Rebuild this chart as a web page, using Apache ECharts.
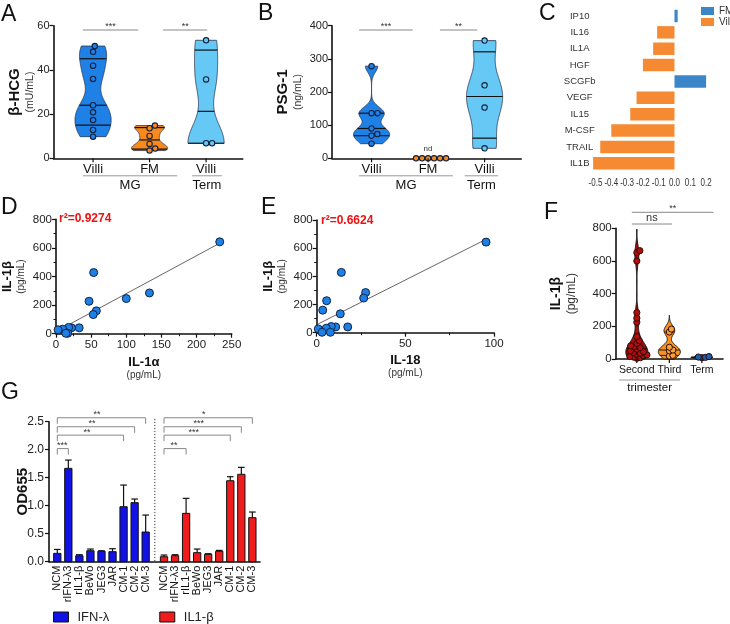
<!DOCTYPE html>
<html><head><meta charset="utf-8">
<script src="https://cdn.jsdelivr.net/npm/echarts@6/dist/echarts.min.js"></script>
<style>html,body{margin:0;padding:0;background:#fff}#c{width:730px;height:624px}</style>
</head><body><div id="c"></div>
<script>
// ================= DATA =================
// Panel A: beta-HCG (mU/mL)
const abCategories = ['Villi', 'FM', 'Villi'];
const abGroupNames = ['MG', 'Term'];
const aVilliMG = [50.8, 48.2, 41.9, 35.9, 24.0, 20.8, 17.3, 12.8, 9.8];
const aFM = [14.8, 13.6, 10.1, 6.5, 4.4, 3.5];
const aVilliTerm = [53.4, 35.7, 6.8, 6.8];
const aSig = ['***', '**'];
// Panel B: PSG-1 (ng/mL)
const bVilliMG = [278, 136, 136, 90, 73, 68, 44];
const bFM = [0, 0, 0, 0, 0, 0];
const bVilliTerm = [355, 220, 153, 30];
const bSig = ['***', '**'];
// Panel C: fold change
const cCategories = ['IP10', 'IL16', 'IL1A', 'HGF', 'SCGFb', 'VEGF', 'IL15', 'M-CSF', 'TRAIL', 'IL1B'];
const cFM =    [0.02, null, null, null, 0.21, null, null, null, null, null];
const cVilli = [null, -0.11, -0.135, -0.20, null, -0.24, -0.28, -0.40, -0.47, -0.515];
const cTicks = [-0.5, -0.4, -0.3, -0.2, -0.1, 0.0, 0.1, 0.2];
// Panels D / E
const deIL1b = [643, 428, 285, 246, 227, 160, 134, 41, 41, 44, 32, 27, 3, 3];
const dIL1a  = [233, 53.6, 133, 100, 47, 57.4, 53, 33, 22, 18, 9.5, 3, 16.6, 14];
const eIL18  = [95.5, 13.9, 27.6, 26.5, 5.6, 3.4, 13.3, 17.5, 10.7, 8.2, 5.4, 0.9, 3.0, 7.7];
const dR2 = 'r²=0.9274';
const eR2 = 'r²=0.6624';
// Panel F: IL-1beta (pg/mL)
const fCategories = ['Second', 'Third', 'Term'];
const fSecond = [663, 651, 600, 284, 250, 225, 137, 112, 95, 80, 75, 70, 60, 50, 45, 40, 35, 30, 25, 20, 15, 12, 8, 5];
const fThird = [183, 165, 72, 55, 50, 22, 18];
const fTerm = [15, 12, 10, 8];
const fSig = ['**', 'ns'];
// Panel G: OD655
const gLabels = ['NCM', 'rIFN-λ3', 'rIL1-β', 'BeWo', 'JEG3', 'JAR', 'CM-1', 'CM-2', 'CM-3'];
const gIFNMean  = [0.149, 1.667, 0.107, 0.196, 0.185, 0.179, 0.982, 1.054, 0.530];
const gIFNErr   = [0.070, 0.148, 0.018, 0.030, 0.011, 0.053, 0.387, 0.065, 0.303];
const gIL1bMean = [0.089, 0.107, 0.863, 0.161, 0.131, 0.185, 1.446, 1.560, 0.786];
const gIL1bErr  = [0.030, 0.018, 0.268, 0.065, 0.012, 0.017, 0.072, 0.125, 0.101];
const gIFNSig  = ['**', '**', '**', '***'];
const gIL1bSig = ['*', '***', '***', '**'];
const gIFNSigTarget  = [8, 7, 6, 1];
const gIL1bSigTarget = [8, 7, 6, 2];

// ================= HELPERS =================
const FONT = '"Liberation Sans", Arial, Helvetica, sans-serif';
const line = (x1, y1, x2, y2, stroke, w, dash) => ({type: 'line', shape: {x1, y1, x2, y2}, style: {stroke, lineWidth: w, lineDash: dash || null}});
const text = (x, y, t, size, fill, align, va, extra) => ({type: 'text', x, y, style: Object.assign({text: t, fill, fontSize: size, fontFamily: FONT, align, verticalAlign: va}, extra || {})});

function quantile(vals, p) {
  const s = [...vals].sort((a, b) => a - b); const n = s.length;
  const pos = p * (n + 1);
  if (pos <= 1) return s[0]; if (pos >= n) return s[n - 1];
  const i = Math.floor(pos); return s[i - 1] + (pos - i) * (s[i] - s[i - 1]);
}
function silverman(vals) {
  const n = vals.length; const m = vals.reduce((a, b) => a + b, 0) / n;
  const sd = Math.sqrt(vals.reduce((a, b) => a + (b - m) ** 2, 0) / (n - 1));
  const iqr = quantile(vals, 0.75) - quantile(vals, 0.25);
  let s = Math.min(sd, iqr / 1.34); if (!(s > 0)) s = sd;
  return 0.9 * s * Math.pow(n, -0.2);
}
function linreg(xs, ys) {
  const n = xs.length; const mx = xs.reduce((a, b) => a + b, 0) / n; const my = ys.reduce((a, b) => a + b, 0) / n;
  let sxy = 0, sxx = 0; xs.forEach((x, i) => { sxy += (x - mx) * (ys[i] - my); sxx += (x - mx) ** 2; });
  const b = sxy / sxx; return {a: my - b * mx, b};
}

function violinSeries(gi, groups, o) {
  return {
    type: 'custom', xAxisIndex: gi, yAxisIndex: gi, z: 2, silent: true, clip: false,
    data: groups.map((g, i) => [g.x, i]),
    renderItem(params, api) {
      const g = groups[params.dataIndex]; const v = g.values;
      const mn = Math.min(...v), mx = Math.max(...v);
      if (mx - mn <= 0) return {type: 'group', children: []};
      const bw = silverman(v) * o.bwFactor;
      const dens = t => v.reduce((s, x) => s + Math.exp(-0.5 * ((t - x) / bw) ** 2), 0);
      const lo = o.truncate ? mn : Math.max(o.yMin, mn - 3 * bw);
      const hi = o.truncate ? mx : Math.min(o.yMax, mx + 3 * bw);
      const N = 140, ts = [], ds = [];
      for (let k = 0; k <= N; k++) { const t = lo + (hi - lo) * k / N; ts.push(t); ds.push(dens(t)); }
      const maxD = Math.max(...ds);
      const L = [], R = [];
      ts.forEach((t, k) => { const w = ds[k] / maxD * o.halfWidth; L.push(api.coord([g.x - w, t])); R.push(api.coord([g.x + w, t])); });
      const ch = [{type: 'polygon', shape: {points: L.concat(R.reverse())}, style: {fill: g.color, stroke: o.stroke, lineWidth: o.strokeWidth}}];
      [0.25, 0.5, 0.75].forEach(p => {
        const q = quantile(v, p); const w = dens(q) / maxD * o.halfWidth;
        const a = api.coord([g.x - w, q]), b = api.coord([g.x + w, q]);
        ch.push(line(a[0], a[1], b[0], b[1], o.qColor, o.qWidth));
      });
      return {type: 'group', children: ch};
    }
  };
}

function pointSeries(gi, groups, o) {
  return {
    type: 'custom', xAxisIndex: gi, yAxisIndex: gi, z: 3, silent: true, clip: false,
    data: groups.map((g, i) => [g.x, i]),
    renderItem(params, api) {
      const g = groups[params.dataIndex]; const r = o.r; const d = 2 * r + o.gap;
      const cx = api.coord([g.x, 0])[0];
      const pts = g.values.map(v => ({y: api.coord([g.x, v])[1]})).sort((a, b) => b.y - a.y);
      const placed = [];
      pts.forEach(p => {
        const c = [0];
        placed.forEach(q => { const dy = p.y - q.y; if (Math.abs(dy) < d) { const dx = Math.sqrt(d * d - dy * dy); c.push(q.dx + dx, q.dx - dx); } });
        c.sort((a, b) => Math.abs(a) - Math.abs(b) || b - a);
        for (const cc of c) { if (placed.every(q => Math.hypot(q.dx - cc, q.y - p.y) >= d - 0.01)) { p.dx = cc; break; } }
        if (p.dx === undefined) p.dx = 0;
        placed.push(p);
      });
      return {type: 'group', children: placed.map(p => ({type: 'circle', shape: {cx: cx + p.dx, cy: p.y, r}, style: {fill: g.pointColor, stroke: o.stroke, lineWidth: o.lw}}))};
    }
  };
}

// category decorations for A/B/F (value x-axes)
function catDecor(gi, ymin, ymax, spec) {
  return {
    type: 'custom', xAxisIndex: gi, yAxisIndex: gi, silent: true, z: 5, clip: false, data: [[1, ymin]],
    renderItem(params, api) {
      const P = (x, y) => api.coord([x, y]);
      const axisY = P(1, ymin)[1], topY = P(1, ymax)[1];
      const ch = [];
      spec.cats.forEach((c, i) => {
        const x = P(i + 1, ymin)[0];
        ch.push(line(x, axisY, x, axisY + 4, '#111', 1.2));
        ch.push(text(x, axisY + spec.catDy, c, spec.catSize, '#111', 'center', 'top'));
      });
      spec.groups.forEach((g, i) => {
        const x1 = P(g[0], ymin)[0], x2 = P(g[1], ymin)[0];
        ch.push(line(x1, axisY + spec.groupLineDy, x2, axisY + spec.groupLineDy, '#999', 1));
        ch.push(text((x1 + x2) / 2, axisY + spec.groupDy, spec.groupNames[i], spec.groupSize || spec.catSize, '#111', 'center', 'top'));
      });
      spec.sigs.forEach((s, i) => {
        const x1 = P(s[0], ymin)[0], x2 = P(s[1], ymin)[0]; const y = topY + s[2];
        ch.push(line(x1, y, x2, y, '#888', 1));
        ch.push(text((x1 + x2) / 2, y + spec.sigTextDy[i], spec.sigLabels[i], spec.sigSize[i], '#333', 'center', 'bottom'));
      });
      if (spec.nd) {
        const p = P(spec.nd[0], ymin);
        ch.push(text(p[0], axisY - 10, 'nd', 8, '#333', 'center', 'middle'));
      }
      return {type: 'group', children: ch};
    }
  };
}

function yName(main, unit, mainSize, unitSize) {
  return {
    name: '{a|' + main + '}\n{b|' + unit + '}', nameLocation: 'middle', nameRotate: 90, nameMoveOverlap: false,
    nameTextStyle: {fontFamily: FONT, rich: {
      a: {fontSize: mainSize, fontWeight: 'bold', color: '#111', fontFamily: FONT, lineHeight: mainSize + 2},
      b: {fontSize: unitSize, color: '#333', fontFamily: FONT, lineHeight: unitSize + 3}}}
  };
}
const AXL = {show: true, lineStyle: {color: '#111', width: 1.6}};
const TICK = {show: true, length: 4, lineStyle: {color: '#111', width: 1.2}};
const LBL = (size, margin) => ({fontSize: size, color: '#222', margin, fontFamily: FONT});
function yAx(gi, min, max, interval, size, margin, nameObj, gap, extra) {
  return Object.assign({gridIndex: gi, type: 'value', min, max, interval, axisLine: AXL, axisTick: TICK,
    axisLabel: LBL(size, margin), splitLine: {show: false}, nameGap: gap}, nameObj, extra || {});
}
function xHidden(gi, min, max) {
  return {gridIndex: gi, type: 'value', min, max, axisLine: AXL, axisTick: {show: false}, axisLabel: {show: false}, splitLine: {show: false}};
}

// ================= COLOURS =================
const C_MG = '#1f80e6', C_FM = '#f7891f', C_TERM = '#66c8f5';

// ================= SERIES =================
const series = [];
// A
series.push(violinSeries(0, [
  {x: 1, values: aVilliMG, color: C_MG}, {x: 2, values: aFM, color: C_FM}, {x: 3, values: aVilliTerm, color: C_TERM}],
  {bwFactor: 0.6, truncate: true, halfWidth: 0.32, stroke: '#2a3550', strokeWidth: 0.8, qColor: '#111', qWidth: 1.2}));
series.push(pointSeries(0, [
  {x: 1, values: aVilliMG, pointColor: C_MG}, {x: 2, values: aFM, pointColor: C_FM}, {x: 3, values: aVilliTerm, pointColor: C_TERM}],
  {r: 2.7, gap: 0.6, stroke: '#14213d', lw: 1.1}));
series.push(catDecor(0, 0, 60, {cats: abCategories, catDy: 4.5, catSize: 13, groups: [[0.82, 2.49], [2.75, 3.28]], groupNames: abGroupNames,
  groupLineDy: 17.5, groupDy: 21, sigs: [[0.82, 1.80, 4.3], [2.24, 3.02, 4.3]], sigLabels: aSig, sigTextDy: [1, 1], sigSize: [9, 9]}));
// B
series.push(violinSeries(1, [
  {x: 1, values: bVilliMG, color: C_MG}, {x: 2, values: bFM, color: C_FM}, {x: 3, values: bVilliTerm, color: C_TERM}],
  {bwFactor: 0.6, truncate: true, halfWidth: 0.32, stroke: '#2a3550', strokeWidth: 0.8, qColor: '#111', qWidth: 1.2}));
series.push(pointSeries(1, [
  {x: 1, values: bVilliMG, pointColor: C_MG}, {x: 2, values: bFM, pointColor: C_FM}, {x: 3, values: bVilliTerm, pointColor: C_TERM}],
  {r: 2.7, gap: 0.6, stroke: '#14213d', lw: 1.1}));
series.push(catDecor(1, 0, 400, {cats: abCategories, catDy: 4.5, catSize: 13, groups: [[0.78, 2.44], [2.65, 3.24]], groupNames: abGroupNames,
  groupLineDy: 17.5, groupDy: 21, sigs: [[0.78, 1.73, 4.3], [2.21, 2.87, 4.3]], sigLabels: bSig, sigTextDy: [1, 1], sigSize: [9, 9], nd: [2]}));
// C
series.push({type: 'bar', name: 'FM', xAxisIndex: 2, yAxisIndex: 2, data: cFM, barWidth: '76%', barGap: '-100%', itemStyle: {color: '#3a86c8'}, silent: true});
series.push({type: 'bar', name: 'Villi', xAxisIndex: 2, yAxisIndex: 2, data: cVilli, barWidth: '76%', barGap: '-100%', itemStyle: {color: '#f68a33'}, silent: true});
series.push({
  type: 'custom', xAxisIndex: 2, yAxisIndex: 2, silent: true, z: 5, clip: false, data: [[0, 0]],
  renderItem(params, api) {
    const last = cCategories.length - 1;
    const band = api.size([0, 1])[1];
    const yb = api.coord([0, last])[1] + band / 2 + 7;
    return {type: 'group', children: cTicks.map(t => {
      const x = api.coord([t, last])[0];
      const el = text(x, yb, (Math.round(t * 10) / 10 + 0).toFixed(1), 10, '#333', 'center', 'top');
      el.scaleX = 0.8; return el;
    })};
  }
});
// D
const dFit = linreg(dIL1a, deIL1b);
const dMin = Math.min(...dIL1a), dMax = Math.max(...dIL1a);
series.push({type: 'line', xAxisIndex: 3, yAxisIndex: 3, data: [[dMin, dFit.a + dFit.b * dMin], [dMax, dFit.a + dFit.b * dMax]],
  symbol: 'none', lineStyle: {color: '#555', width: 0.9}, z: 1, silent: true});
series.push({type: 'scatter', xAxisIndex: 3, yAxisIndex: 3, data: dIL1a.map((x, i) => [x, deIL1b[i]]), symbolSize: 8,
  itemStyle: {color: '#1e80e4', borderColor: '#0d2346', borderWidth: 1, opacity: 1}, z: 3, silent: true});
// E
const eFit = linreg(eIL18, deIL1b);
const eMin = Math.min(...eIL18), eMax = Math.max(...eIL18);
series.push({type: 'line', xAxisIndex: 4, yAxisIndex: 4, data: [[eMin, eFit.a + eFit.b * eMin], [eMax, eFit.a + eFit.b * eMax]],
  symbol: 'none', lineStyle: {color: '#555', width: 0.9}, z: 1, silent: true});
series.push({type: 'scatter', xAxisIndex: 4, yAxisIndex: 4, data: eIL18.map((x, i) => [x, deIL1b[i]]), symbolSize: 8,
  itemStyle: {color: '#1e80e4', borderColor: '#0d2346', borderWidth: 1, opacity: 1}, z: 3, silent: true});
// F
series.push(violinSeries(5, [
  {x: 1, values: fSecond, color: '#a30f0f'}, {x: 2, values: fThird, color: '#f7931e'}, {x: 3, values: fTerm, color: '#1f5fae'}],
  {bwFactor: 0.7, truncate: false, yMin: 0, yMax: 800, halfWidth: 0.34, stroke: '#111', strokeWidth: 1, qColor: '#111', qWidth: 0.9}));
series.push(pointSeries(5, [
  {x: 1, values: fSecond, pointColor: '#b30d0d'}, {x: 2, values: fThird, pointColor: '#f9a23a'}, {x: 3, values: fTerm, pointColor: '#1f5fae'}],
  {r: 3.1, gap: -2.6, stroke: '#2a0a0a', lw: 1}));
series.push(catDecor(5, 0, 800, {cats: fCategories, catDy: 6, catSize: 10.5, groupSize: 11.5, groups: [[0.455, 2.33]], groupNames: ['trimester'],
  groupLineDy: 21, groupDy: 23, sigs: [[0.846, 3.357, -16], [0.846, 2.08, -4.3]], sigLabels: fSig, sigTextDy: [1, -0.5], sigSize: [9, 11]}));
// G
const G_OFFSET = 9.66;
function gBarSeries(name, means, errs, offset, color) {
  return {
    type: 'custom', name, xAxisIndex: 6, yAxisIndex: 6, z: 3, silent: true, clip: false,
    itemStyle: {color, borderColor: '#111', borderWidth: 1},
    encode: {x: 0, y: 1},
    data: means.map((m, i) => [i + 1 + offset, m, errs[i]]),
    renderItem(params, api) {
      const x = api.value(0), m = api.value(1), e = api.value(2);
      const p0 = api.coord([x - 0.33, m]), p1 = api.coord([x + 0.33, 0]);
      const t = api.coord([x, m + e]), b = api.coord([x, m]);
      const cl = api.coord([x - 0.3, m + e]), cr = api.coord([x + 0.3, m + e]);
      return {type: 'group', children: [
        line(b[0], b[1], t[0], t[1], '#111', 1.2),
        line(cl[0], cl[1], cr[0], cr[1], '#111', 1.2),
        {type: 'rect', shape: {x: p0[0], y: p0[1], width: p1[0] - p0[0], height: p1[1] - p0[1]}, style: {fill: color, stroke: '#111', lineWidth: 1}}
      ]};
    }
  };
}
series.push(gBarSeries('IFN-λ', gIFNMean, gIFNErr, 0, '#1212e6'));
series.push(gBarSeries('IL1-β', gIL1bMean, gIL1bErr, G_OFFSET, '#ee1c1c'));
const gLevels = [2.57, 2.41, 2.26, 2.02];
series.push({
  type: 'custom', xAxisIndex: 6, yAxisIndex: 6, silent: true, z: 5, clip: false, data: [[1, 0]],
  renderItem(params, api) {
    const P = (x, y) => api.coord([x, y]);
    const axisY = P(1, 0)[1]; const ch = [];
    [[0, gLabels], [G_OFFSET, gLabels]].forEach(([off, labs]) => {
      labs.forEach((l, i) => { const x = P(i + 1 + off, 0)[0];
        ch.push(text(x, axisY + 4, l, 11, '#111', 'right', 'middle'));
        ch[ch.length - 1].rotation = Math.PI / 2; });
    });
    const dv = P((9 + 1 + G_OFFSET) / 2, 2.55), d0 = P((9 + 1 + G_OFFSET) / 2, 0);
    ch.push(line(dv[0], dv[1], d0[0], d0[1], '#333', 1, [1.2, 1.8]));
    [[0, gIFNSig, gIFNSigTarget], [G_OFFSET, gIL1bSig, gIL1bSigTarget]].forEach(([off, sig, tgt]) => {
      sig.forEach((s, k) => {
        const a = P(1 + off, gLevels[k]), b = P(tgt[k] + 1 + off, gLevels[k]);
        ch.push(line(a[0], a[1], b[0], b[1], '#888', 1));
        ch.push(line(a[0], a[1], a[0], a[1] + 6, '#888', 1));
        ch.push(line(b[0], b[1], b[0], b[1] + 6, '#888', 1));
        ch.push(text(a[0] + (b[0] - a[0]) * 0.45, a[1] + 1.5, s, 9, '#333', 'center', 'bottom'));
      });
    });
    return {type: 'group', children: ch};
  }
});

// ================= OPTION =================
const gridBase = {containLabel: false, outerBoundsMode: 'none'};
const option = {
  animation: false,
  textStyle: {fontFamily: FONT},
  grid: [
    Object.assign({left: 53.5, top: 25.7, width: 189.3, height: 132.6}, gridBase),
    Object.assign({left: 332, top: 25.7, width: 189.3, height: 132.6}, gridBase),
    Object.assign({left: 579.7, top: 7.8, width: 126.4, height: 163.7}, gridBase),
    Object.assign({left: 56, top: 219.4, width: 175.7, height: 114.3}, gridBase),
    Object.assign({left: 316.7, top: 220, width: 177.3, height: 112.7}, gridBase),
    Object.assign({left: 615.7, top: 228.3, width: 107.3, height: 130.7}, gridBase),
    Object.assign({left: 49, top: 421.7, width: 211, height: 140}, gridBase)
  ],
  xAxis: [
    xHidden(0, 0.3, 3.65),
    xHidden(1, 0.3, 3.65),
    {gridIndex: 2, type: 'value', min: -0.6, max: 0.2, interval: 0.1, axisLine: {show: false}, axisTick: {show: false}, splitLine: {show: false}, axisLabel: {show: false}},
    Object.assign({gridIndex: 3, type: 'value', min: 0, max: 250, interval: 50, axisLine: AXL, axisTick: TICK, minorTick: {show: true, splitNumber: 2, length: 2.5, lineStyle: {color: '#111'}},
      axisLabel: LBL(11.5, 5), splitLine: {show: false}, minorSplitLine: {show: false}, nameGap: 22, nameLocation: 'middle', nameMoveOverlap: false,
      name: '{a|IL-1α}\n{b|(pg/mL)}', nameTextStyle: {rich: {a: {fontSize: 13, fontWeight: 'bold', color: '#111', fontFamily: FONT, lineHeight: 14}, b: {fontSize: 10, color: '#333', fontFamily: FONT, lineHeight: 12}}}}),
    Object.assign({gridIndex: 4, type: 'value', min: 0, max: 100, interval: 50, axisLine: AXL, axisTick: TICK, minorTick: {show: true, splitNumber: 2, length: 2.5, lineStyle: {color: '#111'}},
      axisLabel: LBL(11.5, 5), splitLine: {show: false}, minorSplitLine: {show: false}, nameGap: 21, nameLocation: 'middle', nameMoveOverlap: false,
      name: '{a|IL-18}\n{b|(pg/mL)}', nameTextStyle: {rich: {a: {fontSize: 13, fontWeight: 'bold', color: '#111', fontFamily: FONT, lineHeight: 14}, b: {fontSize: 10, color: '#333', fontFamily: FONT, lineHeight: 12}}}}),
    xHidden(5, 0.35, 3.65),
    xHidden(6, 0.25, 19.35)
  ],
  yAxis: [
    yAx(0, 0, 60, 20, 11, 4, yName('β-HCG', '(mU/mL)', 15, 10.5), 17),
    yAx(1, 0, 400, 100, 11, 4, yName('PSG-1', '(ng/mL)', 15, 10.5), 27),
    {gridIndex: 2, type: 'category', data: cCategories, inverse: true, axisLine: {show: false}, axisTick: {show: false}, splitLine: {show: false},
      axisLabel: {fontSize: 9.5, color: '#333', align: 'center', margin: 0, fontFamily: FONT}},
    yAx(3, 0, 800, 200, 11.5, 4, yName('IL-1β', '(pg/mL)', 13, 10), 28, {minorTick: {show: true, splitNumber: 2, length: 2.5, lineStyle: {color: '#111'}}, minorSplitLine: {show: false}}),
    yAx(4, 0, 800, 200, 11.5, 4, yName('IL-1β', '(pg/mL)', 13, 10), 28, {minorTick: {show: true, splitNumber: 2, length: 2.5, lineStyle: {color: '#111'}}, minorSplitLine: {show: false}}),
    yAx(5, 0, 800, 200, 11.5, 4, yName('IL-1β', '(pg/mL)', 14, 12), 37),
    yAx(6, 0, 2.5, 0.5, 12, 5, yName('OD655', '', 15, 1), 14, {axisLabel: Object.assign(LBL(12, 5), {formatter: v => v.toFixed(1)})})
  ],
  legend: [
    {data: ['FM', 'Villi'], orient: 'vertical', left: 701, top: 6, padding: 0, itemWidth: 13, itemHeight: 8, itemGap: 1, icon: 'rect', selectedMode: false,
      textStyle: {fontSize: 10, color: '#333', fontFamily: FONT}},
    {data: ['IFN-λ', 'IL1-β'], left: 53, top: 610.5, padding: 0, itemWidth: 15, itemHeight: 10, itemGap: 50, icon: 'rect', selectedMode: false,
      itemStyle: {borderColor: '#111', borderWidth: 1},
      textStyle: {fontSize: 13, color: '#222', fontFamily: FONT, padding: [0, 0, 0, 4]}}
  ],
  graphic: [
    {type: 'text', left: 1, top: 3, style: {text: 'A', font: '23px ' + FONT, fill: '#111'}},
    {type: 'text', left: 258, top: 2, style: {text: 'B', font: '23px ' + FONT, fill: '#111'}},
    {type: 'text', left: 539, top: 2, style: {text: 'C', font: '23px ' + FONT, fill: '#111'}},
    {type: 'text', left: 1, top: 196, style: {text: 'D', font: '23px ' + FONT, fill: '#111'}},
    {type: 'text', left: 261, top: 196, style: {text: 'E', font: '23px ' + FONT, fill: '#111'}},
    {type: 'text', left: 544, top: 201, style: {text: 'F', font: '23px ' + FONT, fill: '#111'}},
    {type: 'text', left: 1, top: 381, style: {text: 'G', font: '23px ' + FONT, fill: '#111'}},
    {type: 'text', left: 59, top: 213, style: {text: dR2, font: 'bold 12px ' + FONT, fill: '#ee1111'}},
    {type: 'text', left: 321, top: 215, style: {text: eR2, font: 'bold 12px ' + FONT, fill: '#ee1111'}}
  ],
  series
};
const chart = echarts.init(document.getElementById('c'), null, {renderer: 'canvas'});
chart.setOption(option);
</script>
</body></html>
